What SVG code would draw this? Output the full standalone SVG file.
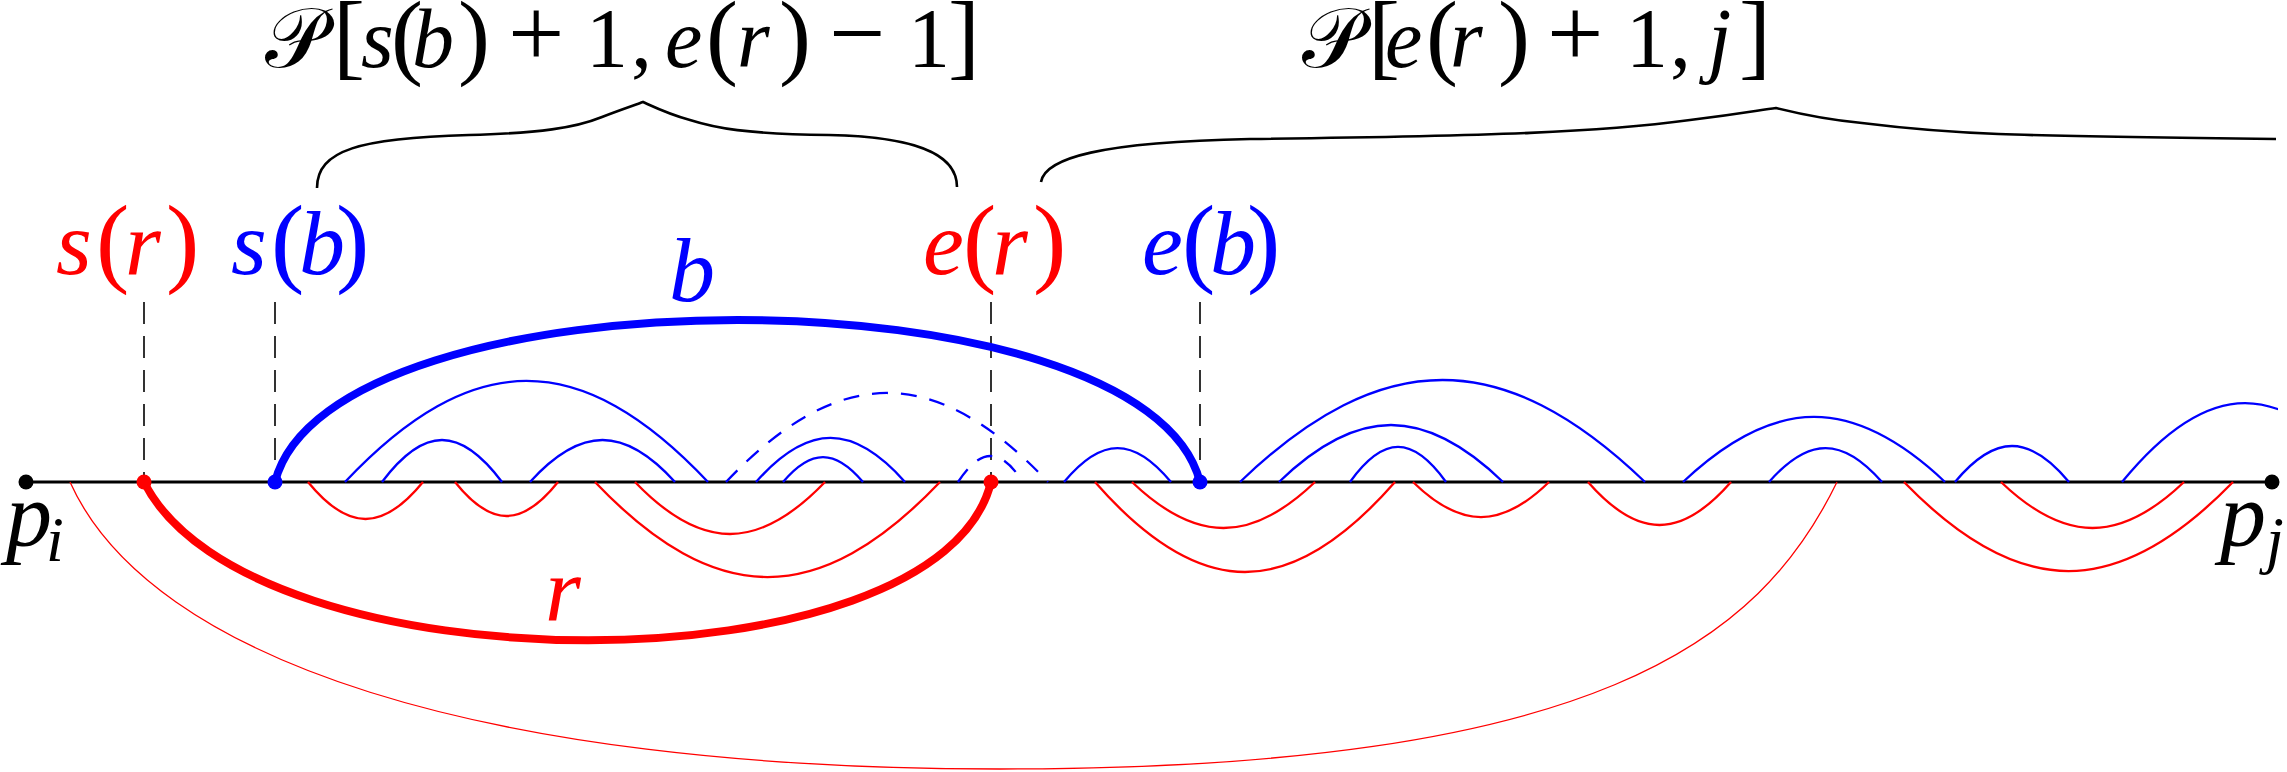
<svg xmlns="http://www.w3.org/2000/svg" width="2287" height="772" viewBox="0 0 2287 772">
<style>
.ax{fill:none;stroke-width:2.3}
.bl{stroke:#0000ff}
.rd{stroke:#ff0000}
.dsh{stroke-dasharray:16 13}
.thick{stroke-width:8}
.thin{stroke-width:1.3}
.guide{stroke:#000;stroke-width:1.6;stroke-dasharray:22 12}
.brace{fill:none;stroke:#000;stroke-width:2.6}
.m{font-style:italic}
.u{font-style:normal}
.p{font-style:normal;font-size:96px}
.op{font-style:normal;font-size:100px}
.lp{font-style:normal;font-size:100px}
.cal{font-style:normal}
</style>
<defs>
<clipPath id="cq"><rect x="2100" y="340" width="178" height="150"/></clipPath>
</defs>

<g id="titles">
<g id="title-left">
<text class="m" font-family="Liberation Serif, DejaVu Serif, serif" y="67" font-size="84"><tspan x="265" class="cal" font-family="DejaVu Serif, DejaVu Sans, serif">𝒫</tspan><tspan x="333" class="p">[</tspan><tspan x="361">s</tspan><tspan x="391" class="p">(</tspan><tspan x="412">b</tspan><tspan x="458" class="p">)</tspan><tspan x="508" class="op">+</tspan><tspan x="586" class="u">1</tspan><tspan x="631" class="u">,</tspan><tspan x="665">e</tspan><tspan x="706" class="p">(</tspan><tspan x="737">r</tspan><tspan x="779" class="p">)</tspan><tspan x="829" class="op">−</tspan><tspan x="908" class="u">1</tspan><tspan x="948" class="p">]</tspan></text>
<path class="brace" d="M317,188 C317,150 360,138 469,135 C540,133 575,128 602,117 C620,110 635,105 643,102 C652,106 668,114 690,120 C715,128 745,134 829,135 C930,137 957,160 957,187"/>
</g>
<g id="title-right">
<text class="m" font-family="Liberation Serif, DejaVu Serif, serif" y="67" font-size="84"><tspan x="1302" class="cal" font-family="DejaVu Serif, DejaVu Sans, serif">𝒫</tspan><tspan x="1368" class="p">[</tspan><tspan x="1385">e</tspan><tspan x="1426" class="p">(</tspan><tspan x="1450">r</tspan><tspan x="1498" class="p">)</tspan><tspan x="1547" class="op">+</tspan><tspan x="1626" class="u">1</tspan><tspan x="1670" class="u">,</tspan><tspan x="1708">j</tspan><tspan x="1739" class="p">]</tspan></text>
<path class="brace" d="M1041,182 C1045,158 1100,142 1250,139 C1500,136 1600,132 1690,120 C1740,114 1760,110 1776,108 C1800,114 1830,120 1862,123 C1950,134 2000,136 2276,139"/>
</g>
</g>

<g id="connectors">
<line x1="26" y1="482" x2="2272" y2="482" stroke="#000" stroke-width="3"/>
<line class="guide" x1="144" y1="302" x2="144" y2="482"/>
<line class="guide" x1="275" y1="302" x2="275" y2="482"/>
<line class="guide" x1="991" y1="302" x2="991" y2="482"/>
<line class="guide" x1="1200" y1="302" x2="1200" y2="482"/>

<path class="ax rd thin" d="M70,482 C150,660 480,769 1000,769 C1600,769 1760,640 1837,482"/>

<path class="ax bl" d="M345,482 C472,347.3 581,347.3 708,482"/>
<path class="ax bl" d="M382,482 C424,426 460,426 502,482"/>
<path class="ax bl" d="M530,482 C580.75,426 624.25,426 675,482"/>
<path class="ax bl dsh" d="M726,482 C838.7,363.3 935.3,363.3 1048,482"/>
<path class="ax bl" d="M756,482 C808.15,423.3 852.85,423.3 905,482"/>
<path class="ax bl" d="M783,482 C811,448.7 835,448.7 863,482"/>
<path class="ax bl dsh" d="M958,482 C980.75,447.3 1000.25,447.3 1023,482"/>
<path class="ax bl" d="M1064,482 C1101.45,436.7 1133.55,436.7 1171,482"/>
<path class="ax bl" d="M1240,482 C1381.75,346 1503.25,346 1645,482"/>
<path class="ax bl" d="M1279,482 C1357.4,406 1424.6,406 1503,482"/>
<path class="ax bl" d="M1350,482 C1383.6,435.3 1412.4,435.3 1446,482"/>
<path class="ax bl" d="M1683,482 C1774.7,395.3 1853.3,395.3 1945,482"/>
<path class="ax bl" d="M1769,482 C1808.55,436.7 1842.45,436.7 1882,482"/>
<path class="ax bl" d="M1955,482 C1994.9,434 2029.1,434 2069,482"/>
<path class="ax bl" clip-path="url(#cq)" d="M2122,482 C2208.1,376.7 2281.9,376.7 2368,482"/>

<path class="ax rd" d="M308,482 C348.25,531.3 382.75,531.3 423,482"/>
<path class="ax rd" d="M455,482 C491.05,527.3 521.95,527.3 558,482"/>
<path class="ax rd" d="M595,482 C715.75,608.7 819.25,608.7 940,482"/>
<path class="ax rd" d="M635,482 C701.5,551.3 758.5,551.3 825,482"/>
<path class="ax rd" d="M1095,482 C1200,602 1290,602 1395,482"/>
<path class="ax rd" d="M1132,482 C1196.05,543.3 1250.95,543.3 1315,482"/>
<path class="ax rd" d="M1413,482 C1460.6,528.7 1501.4,528.7 1549,482"/>
<path class="ax rd" d="M1588,482 C1638.05,539.3 1680.95,539.3 1731,482"/>
<path class="ax rd" d="M1904,482 C2019.15,600.7 2117.85,600.7 2233,482"/>
<path class="ax rd" d="M2001,482 C2065.05,543.3 2119.95,543.3 2184,482"/>

<path id="arc-b" class="ax bl thick" d="M275,482 C330,266 1145,266 1200,482"/>
<path id="arc-r" class="ax rd thick" d="M144,482 C250,693 940,693 991,482"/>
</g>

<g id="node-pi">
<circle cx="26" cy="482" r="7.5" fill="#000"/>
<text class="m" font-family="Liberation Serif, DejaVu Serif, serif" font-size="92" x="6" y="546">p<tspan font-size="64" x="46" y="561">i</tspan></text>
</g>
<g id="node-pj">
<circle cx="2272" cy="482" r="7.5" fill="#000"/>
<text class="m" font-family="Liberation Serif, DejaVu Serif, serif" font-size="92" x="2220" y="546">p<tspan font-size="64" x="2266" y="561">j</tspan></text>
</g>
<g id="node-sr">
<circle cx="144" cy="482" r="7.5" fill="#ff0000"/>
<text class="m" font-family="Liberation Serif, DejaVu Serif, serif" font-size="92" y="274" fill="#ff0000"><tspan x="56">s</tspan><tspan x="96" class="lp">(</tspan><tspan x="125">r</tspan><tspan x="166" class="lp">)</tspan></text>
</g>
<g id="node-sb">
<circle cx="275" cy="482" r="7.5" fill="#0000ff"/>
<text class="m" font-family="Liberation Serif, DejaVu Serif, serif" font-size="92" y="274" fill="#0000ff"><tspan x="231">s</tspan><tspan x="271" class="lp">(</tspan><tspan x="299">b</tspan><tspan x="336" class="lp">)</tspan></text>
</g>
<g id="node-er">
<circle cx="991" cy="482" r="7.5" fill="#ff0000"/>
<text class="m" font-family="Liberation Serif, DejaVu Serif, serif" font-size="92" y="274" fill="#ff0000"><tspan x="923">e</tspan><tspan x="963" class="lp">(</tspan><tspan x="992">r</tspan><tspan x="1033" class="lp">)</tspan></text>
</g>
<g id="node-eb">
<circle cx="1200" cy="482" r="7.5" fill="#0000ff"/>
<text class="m" font-family="Liberation Serif, DejaVu Serif, serif" font-size="92" y="274" fill="#0000ff"><tspan x="1142">e</tspan><tspan x="1182" class="lp">(</tspan><tspan x="1210">b</tspan><tspan x="1247" class="lp">)</tspan></text>
</g>
<g id="label-b">
<text class="m" font-family="Liberation Serif, DejaVu Serif, serif" font-size="92" x="669" y="301" fill="#0000ff">b</text>
</g>
<g id="label-r">
<text class="m" font-family="Liberation Serif, DejaVu Serif, serif" font-size="92" x="545" y="620" fill="#ff0000">r</text>
</g>
</svg>
